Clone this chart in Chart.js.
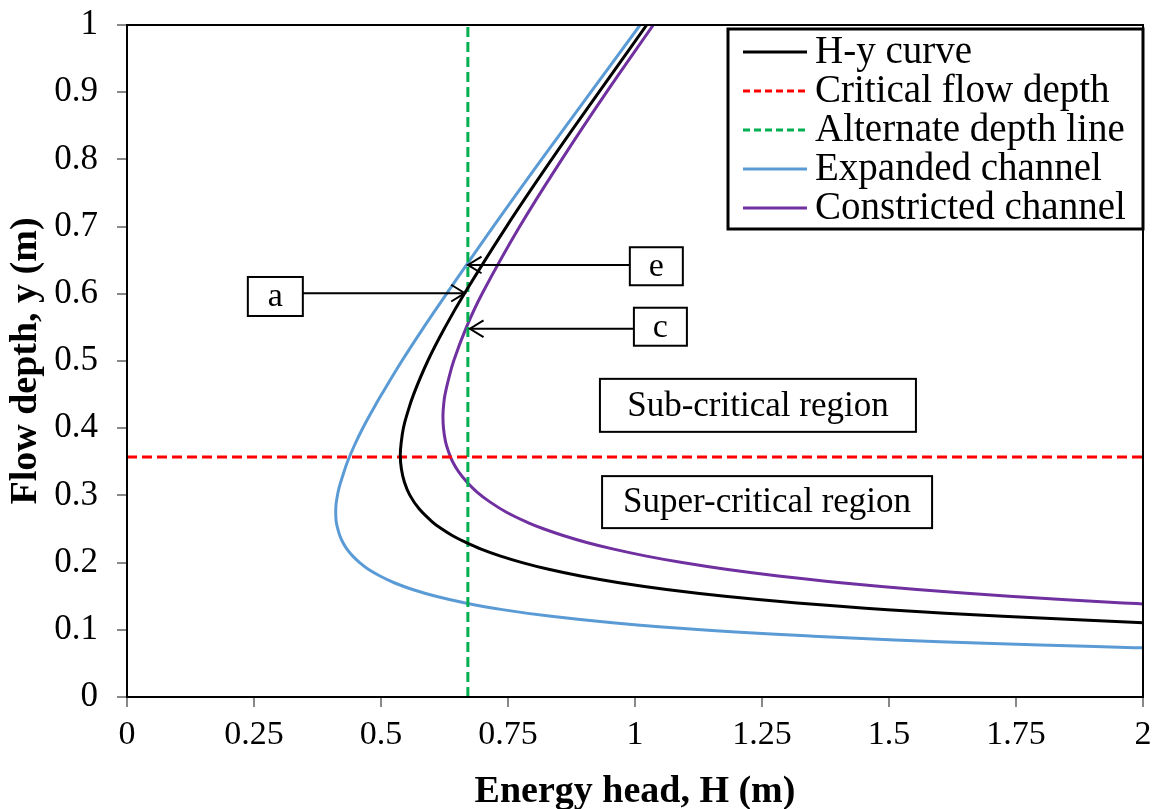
<!DOCTYPE html>
<html>
<head>
<meta charset="utf-8">
<title>Specific energy curves</title>
<script src="https://cdn.jsdelivr.net/npm/chart.js@4.4.1/dist/chart.umd.min.js"></script>
<style>
  html, body { margin: 0; padding: 0; background: #fff; }
  #wrap { width: 1153px; height: 809px; }
</style>
</head>
<body>
<div id="wrap"><canvas id="chart" width="1153" height="809"></canvas></div>
<script>
// values (depth y in m, energy head H in m)
const hyDepth  = [1.0, 0.9, 0.8, 0.7, 0.6, 0.55, 0.5, 0.45, 0.42, 0.4, 0.38, 0.36, 0.34, 0.32, 0.3, 0.28, 0.26, 0.25, 0.24, 0.23, 0.22, 0.21, 0.2, 0.19, 0.18, 0.17, 0.16, 0.15, 0.14, 0.13, 0.12, 0.11];
const hyEnergy = [1.023, 0.929, 0.836, 0.747, 0.664, 0.626, 0.592, 0.564, 0.551, 0.544, 0.540, 0.538, 0.540, 0.546, 0.557, 0.575, 0.602, 0.620, 0.641, 0.667, 0.697, 0.734, 0.778, 0.830, 0.893, 0.969, 1.062, 1.177, 1.319, 1.497, 1.724, 2.019];

const expDepth  = [1.0, 0.9, 0.8, 0.7, 0.6, 0.55, 0.5, 0.45, 0.425, 0.4, 0.375, 0.35, 0.33, 0.31, 0.29, 0.28, 0.27, 0.26, 0.25, 0.24, 0.23, 0.22, 0.21, 0.2, 0.19, 0.18, 0.17, 0.16, 0.15, 0.14, 0.13, 0.12, 0.11, 0.1, 0.09, 0.085, 0.08, 0.075, 0.072];
const expEnergy = [1.010, 0.913, 0.816, 0.721, 0.629, 0.584, 0.541, 0.501, 0.482, 0.464, 0.448, 0.434, 0.425, 0.417, 0.412, 0.411, 0.411, 0.412, 0.415, 0.419, 0.425, 0.433, 0.444, 0.458, 0.475, 0.498, 0.526, 0.562, 0.608, 0.666, 0.739, 0.835, 0.961, 1.130, 1.362, 1.511, 1.689, 1.906, 2.059];

const conDepth  = [1.0, 0.9, 0.8, 0.7, 0.6, 0.55, 0.5, 0.47, 0.45, 0.44, 0.42, 0.4, 0.38, 0.365, 0.35, 0.335, 0.32, 0.305, 0.29, 0.275, 0.26, 0.25, 0.24, 0.23, 0.22, 0.21, 0.2, 0.19, 0.18, 0.17, 0.16, 0.15, 0.14, 0.138];
const conEnergy = [1.036, 0.944, 0.856, 0.773, 0.699, 0.668, 0.643, 0.632, 0.626, 0.624, 0.622, 0.623, 0.627, 0.633, 0.641, 0.653, 0.669, 0.689, 0.715, 0.747, 0.788, 0.821, 0.860, 0.905, 0.958, 1.020, 1.093, 1.179, 1.282, 1.405, 1.555, 1.737, 1.961, 2.013];

const criticalDepth = 0.357;
const alternateEnergy = 0.671;

const seriesNames = ['H-y curve', 'Critical flow depth', 'Alternate depth line', 'Expanded channel', 'Constricted channel'];
const seriesColors = ['#000000', '#ff0000', '#00b050', '#5b9bd5', '#7030a0'];
const seriesDashed = [false, true, true, false, false];

const xTicks = [0, 0.25, 0.5, 0.75, 1, 1.25, 1.5, 1.75, 2];
const yTicks = [0, 0.1, 0.2, 0.3, 0.4, 0.5, 0.6, 0.7, 0.8, 0.9, 1];

const serif = '"Liberation Serif", "Times New Roman", serif';

function toPoints(xs, ys) {
    return xs.map((v, i) => ({ x: v, y: ys[i] }));
}

// annotation boxes with arrows (box centre in data units, arrow tip in data units)
const letterNotes = [
    { text: 'a', cx: 0.292, cy: 0.596, w: 55, h: 39, arrowY: 0.601, tipX: 0.665 },
    { text: 'e', cx: 1.042, cy: 0.641, w: 53, h: 38, arrowY: 0.643, tipX: 0.671 },
    { text: 'c', cx: 1.050, cy: 0.551, w: 53, h: 38, arrowY: 0.548, tipX: 0.675 }
];
const regionNotes = [
    { text: 'Sub-critical region', cx: 1.242, cy: 0.434, w: 316, h: 53 },
    { text: 'Super-critical region', cx: 1.260, cy: 0.290, w: 330, h: 52 }
];

function drawArrow(ctx, x0, y0, x1, y1) {
    const ang = Math.atan2(y1 - y0, x1 - x0);
    ctx.beginPath();
    ctx.moveTo(x0, y0);
    ctx.lineTo(x1, y1);
    ctx.stroke();
    ctx.beginPath();
    ctx.moveTo(x1 - 16 * Math.cos(ang - 0.55), y1 - 16 * Math.sin(ang - 0.55));
    ctx.lineTo(x1, y1);
    ctx.lineTo(x1 - 16 * Math.cos(ang + 0.55), y1 - 16 * Math.sin(ang + 0.55));
    ctx.stroke();
}

function drawBox(ctx, cx, cy, w, h, text, font) {
    ctx.fillStyle = '#fff';
    ctx.fillRect(cx - w / 2, cy - h / 2, w, h);
    ctx.strokeStyle = '#000';
    ctx.lineWidth = 2;
    ctx.strokeRect(cx - w / 2, cy - h / 2, w, h);
    ctx.fillStyle = '#000';
    ctx.font = font;
    ctx.textAlign = 'center';
    ctx.textBaseline = 'middle';
    ctx.fillText(text, cx, cy + 1);
}

const overlayPlugin = {
    id: 'overlay',
    afterDatasetsDraw(chart) {
        const { ctx, chartArea: area, scales: { x, y } } = chart;
        ctx.save();

        // frame round the plot area
        ctx.strokeStyle = '#000';
        ctx.lineWidth = 2;
        ctx.strokeRect(area.left, area.top, area.right - area.left, area.bottom - area.top);

        // arrows and letter boxes
        letterNotes.forEach(n => {
            const cx = x.getPixelForValue(n.cx);
            const cy = y.getPixelForValue(n.cy);
            const ay = y.getPixelForValue(n.arrowY);
            const tip = x.getPixelForValue(n.tipX);
            const start = tip > cx ? cx + n.w / 2 : cx - n.w / 2;
            ctx.strokeStyle = '#000';
            ctx.lineWidth = 2;
            drawArrow(ctx, start, ay, tip, ay);
            drawBox(ctx, cx, cy, n.w, n.h, n.text, '34px ' + serif);
        });

        regionNotes.forEach(n => {
            drawBox(ctx, x.getPixelForValue(n.cx), y.getPixelForValue(n.cy), n.w, n.h, n.text, '35px ' + serif);
        });

        // legend
        const lx = 728, ly = area.top + 4, lw = area.right - 728, lh = 200;
        ctx.fillStyle = '#fff';
        ctx.fillRect(lx, ly, lw, lh);
        ctx.strokeStyle = '#000';
        ctx.lineWidth = 3;
        ctx.strokeRect(lx, ly, lw, lh);
        ctx.font = '39px ' + serif;
        ctx.textAlign = 'left';
        ctx.textBaseline = 'middle';
        seriesNames.forEach((name, i) => {
            const ry = ly + 23 + i * 39;
            ctx.strokeStyle = seriesColors[i];
            ctx.lineWidth = 3;
            ctx.setLineDash(seriesDashed[i] ? [7, 4] : []);
            ctx.beginPath();
            ctx.moveTo(lx + 15, ry);
            ctx.lineTo(lx + 79, ry);
            ctx.stroke();
            ctx.setLineDash([]);
            ctx.fillStyle = '#000';
            ctx.fillText(name, lx + 87, ry + 1);
        });

        ctx.restore();
    }
};

const curveStyle = { showLine: true, fill: false, borderWidth: 3, pointRadius: 0, tension: 0.4 };

new Chart(document.getElementById('chart'), {
    type: 'scatter',
    data: {
        datasets: [
            Object.assign({ label: seriesNames[0], data: toPoints(hyEnergy, hyDepth), borderColor: seriesColors[0] }, curveStyle),
            { label: seriesNames[1], data: [{ x: 0, y: criticalDepth }, { x: 2, y: criticalDepth }], showLine: true, borderColor: seriesColors[1], borderWidth: 3, borderDash: [10, 5], pointRadius: 0 },
            { label: seriesNames[2], data: [{ x: alternateEnergy, y: 0 }, { x: alternateEnergy, y: 1 }], showLine: true, borderColor: seriesColors[2], borderWidth: 3, borderDash: [10, 5], pointRadius: 0 },
            Object.assign({ label: seriesNames[3], data: toPoints(expEnergy, expDepth), borderColor: seriesColors[3] }, curveStyle),
            Object.assign({ label: seriesNames[4], data: toPoints(conEnergy, conDepth), borderColor: seriesColors[4] }, curveStyle)
        ]
    },
    options: {
        responsive: false,
        animation: false,
        layout: { padding: { top: 25, right: 10, left: 0, bottom: 0 } },
        plugins: { legend: { display: false }, tooltip: { enabled: false } },
        scales: {
            x: {
                type: 'linear', min: 0, max: 2,
                afterBuildTicks: s => { s.ticks = xTicks.map(v => ({ value: v })); },
                afterFit: s => { s.height = 112; s.paddingLeft = 0; s.paddingRight = 0; },
                ticks: { font: { family: serif, size: 34 }, color: '#000', padding: 8, maxRotation: 0, callback: v => String(+v.toFixed(2)) },
                grid: { drawOnChartArea: false, drawTicks: true, tickLength: 10, color: '#888', lineWidth: 2 },
                border: { color: '#000', width: 2 },
                title: { display: true, text: 'Energy head, H (m)', color: '#000', font: { family: serif, size: 38, weight: 'bold', lineHeight: 1 }, padding: { top: 0, bottom: -2 } }
            },
            y: {
                type: 'linear', min: 0, max: 1,
                afterBuildTicks: s => { s.ticks = yTicks.map(v => ({ value: v })); },
                afterFit: s => { s.width = 127; s.paddingTop = 0; s.paddingBottom = 0; },
                ticks: { font: { family: serif, size: 35 }, color: '#000', padding: 19, callback: v => String(+v.toFixed(2)) },
                grid: { drawOnChartArea: false, drawTicks: true, tickLength: 10, color: '#888', lineWidth: 2 },
                border: { color: '#000', width: 2 },
                title: { display: true, text: 'Flow depth, y (m)', color: '#000', font: { family: serif, size: 38, weight: 'bold', lineHeight: 1 }, padding: { top: 7, bottom: 0 } }
            }
        }
    },
    plugins: [overlayPlugin]
});
</script>
</body>
</html>
